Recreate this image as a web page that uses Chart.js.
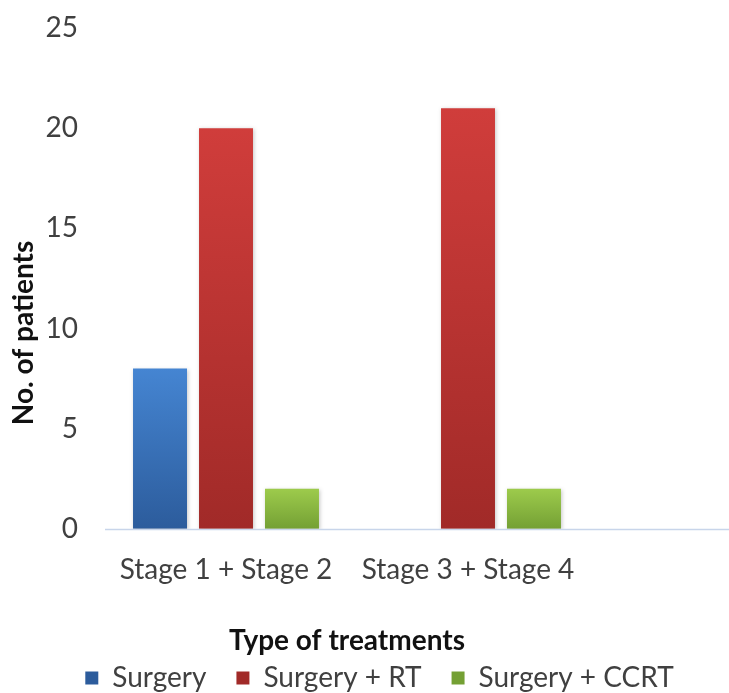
<!DOCTYPE html>
<html>
<head>
<meta charset="utf-8">
<script src="https://cdn.jsdelivr.net/npm/chart.js@4.4.1/dist/chart.umd.min.js"></script>
<style>
  html, body { margin: 0; padding: 0; background: #ffffff; }
  canvas { display: block; }
</style>
</head>
<body>
<canvas id="chart" width="729" height="693"></canvas>
<script>
// Number of patients by disease stage and treatment type
const categories = ['Stage 1 + Stage 2', 'Stage 3 + Stage 4'];
const seriesNames = ['Surgery', 'Surgery + RT', 'Surgery + CCRT'];
const surgery = [8, 0];
const surgeryRT = [20, 21];
const surgeryCCRT = [2, 2];
const yTickValues = [0, 5, 10, 15, 20, 25];

const FONT = 'Lato, "Open Sans", sans-serif';
const TEXT = '#404040';

// top / bottom shades of each series' bars
const palette = [
  { flat: '#3a73bd', top: '#4585d2', bottom: '#2c5c9c' },
  { flat: '#c3302f', top: '#d03d3b', bottom: '#a12a28' },
  { flat: '#8dbf3e', top: '#9dcb4c', bottom: '#74a034' }
];

function barFill(index) {
  const p = palette[index];
  return (ctx) => {
    if (ctx.type !== 'data') return p.flat;
    const chart = ctx.chart;
    const y = chart.scales && chart.scales.y;
    if (!chart.chartArea || !y) return p.flat;
    const top = y.getPixelForValue(ctx.parsed.y);
    const bottom = y.getPixelForValue(0);
    if (!(bottom - top > 1)) return p.flat;
    const g = chart.ctx.createLinearGradient(0, top, 0, bottom);
    g.addColorStop(0, p.top);
    g.addColorStop(1, p.bottom);
    return g;
  };
}

const seriesValues = [surgery, surgeryRT, surgeryCCRT];
const datasets = seriesNames.map((name, i) => ({
  label: name,
  data: seriesValues[i],
  backgroundColor: barFill(i),
  borderWidth: 0,
  categoryPercentage: 0.818,
  barPercentage: 0.818
}));

// soft drop shadow behind the bars, plus the baseline running to the right edge
const barDecor = {
  id: 'barDecor',
  beforeDatasetsDraw(chart) {
    const { ctx, chartArea, scales } = chart;
    const y0 = Math.round(scales.y.getPixelForValue(0)) + 0.5;
    ctx.save();
    ctx.strokeStyle = '#c8d5ea';
    ctx.lineWidth = 1.5;
    ctx.beginPath();
    ctx.moveTo(chartArea.left, y0);
    ctx.lineTo(chart.width, y0);
    ctx.stroke();
    ctx.restore();
    ctx.save();
    ctx.shadowColor = 'rgba(0,0,0,0.22)';
    ctx.shadowBlur = 4;
    ctx.shadowOffsetX = 1;
    ctx.shadowOffsetY = 1;
  },
  afterDatasetsDraw(chart) {
    chart.ctx.restore();
  }
};

// vertical axis title, set beside the tick labels
const yAxisTitle = {
  id: 'yAxisTitle',
  afterDraw(chart) {
    const { ctx } = chart;
    ctx.save();
    ctx.translate(33, 333);
    ctx.rotate(-Math.PI / 2);
    ctx.font = 'bold 28px ' + FONT;
    ctx.fillStyle = '#111111';
    ctx.textAlign = 'center';
    ctx.textBaseline = 'alphabetic';
    ctx.fillText('No. of patients', 0, 0);
    ctx.restore();
  }
};

new Chart(document.getElementById('chart'), {
  type: 'bar',
  data: { labels: categories, datasets },
  options: {
    responsive: false,
    animation: false,
    layout: { padding: { top: 0, bottom: -9, left: 30, right: 0 } },
    plugins: {
      tooltip: { enabled: false },
      legend: {
        position: 'bottom',
        labels: {
          boxWidth: 13,
          boxHeight: 13,
          padding: 30,
          color: TEXT,
          font: { family: FONT, size: 28 }
        }
      }
    },
    scales: {
      x: {
        grid: { display: false, drawTicks: false },
        border: { display: false },
        ticks: { color: TEXT, padding: 24, font: { family: FONT, size: 28 } },
        title: {
          display: true,
          text: 'Type of treatments',
          color: '#111111',
          font: { family: FONT, size: 28, weight: 'bold' },
          padding: { top: 14, bottom: -24 }
        }
      },
      y: {
        min: 0,
        max: 25,
        afterFit: (s) => { s.width = 75; s.paddingTop = 28; },
        afterBuildTicks: (s) => { s.ticks = yTickValues.map(v => ({ value: v })); },
        grid: { display: false, drawTicks: false },
        border: { display: false },
        ticks: { color: TEXT, padding: 27, font: { family: FONT, size: 28 } }
      },
      spacer: {
        type: 'linear',
        position: 'right',
        display: true,
        afterFit: (s) => { s.width = 140; },
        grid: { display: false, drawTicks: false },
        border: { display: false },
        ticks: { display: false }
      }
    }
  },
  plugins: [barDecor, yAxisTitle]
});
</script>
</body>
</html>
